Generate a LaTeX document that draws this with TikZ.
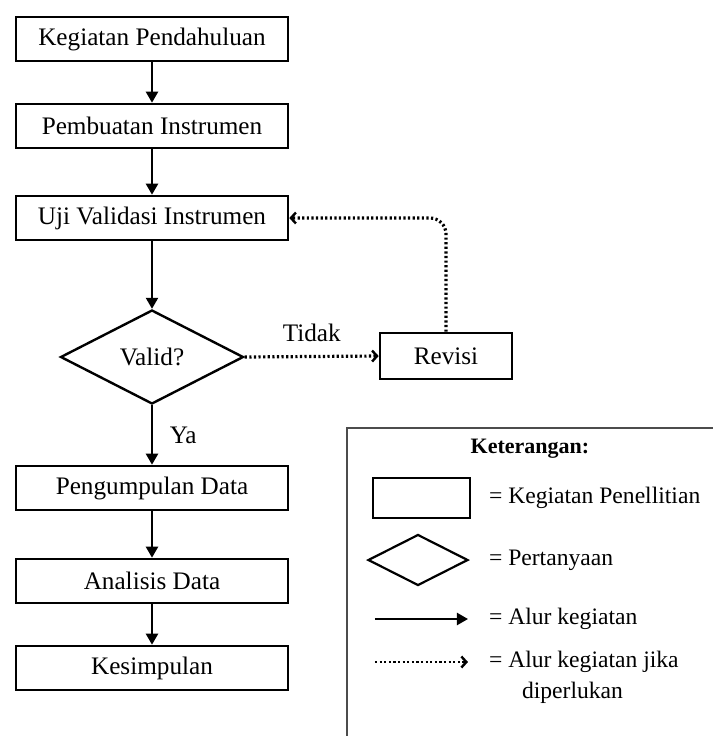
\documentclass[tikz,border=0pt]{standalone}
\usepackage{fontspec}
\setmainfont{Liberation Serif}
\usetikzlibrary{shapes.geometric,arrows.meta}

\tikzset{
  kotak/.style={draw, line width=1.3pt, minimum width=136pt, minimum height=22pt,
    inner sep=0pt, font=\fontsize{12.6}{15}\selectfont},
  belah/.style={draw, diamond, line width=1.2pt, minimum width=91.5pt, minimum height=47pt,
    inner sep=0pt, font=\fontsize{12.6}{15}\selectfont},
  ket/.style={anchor=west, font=\fontsize{11.8}{14}\selectfont},
  alur/.style={line width=1.1pt, -{Triangle[length=5.5pt,width=6pt]}},
  alurtitik/.style={line width=1.6pt, dash pattern=on 1.1pt off 1.2pt,
    -{Straight Barb[length=2.5pt,width=5.5pt,line width=1.2pt]}}
}

\begin{document}
\begin{tikzpicture}[x=0.5pt,y=-0.5pt]
    \useasboundingbox (0,0) rectangle (713,736);
    \clip (0,0) rectangle (713,736);
    % alur utama
    \node[kotak] (pendahuluan) at (152,39) {Kegiatan Pendahuluan};
    \node[kotak] (instrumen) at (152,126) {Pembuatan Instrumen};
    \node[kotak] (uji) at (152,218) {Uji Validasi Instrumen};
    \node[belah] (valid) at (152,357) {Valid?};
    \node[kotak, minimum width=66pt, minimum height=23pt] (revisi) at (446,356) {Revisi};
    \node[kotak] (data) at (152,488) {Pengumpulan Data};
    \node[kotak] (analisis) at (152,581) {Analisis Data};
    \node[kotak] (simpul) at (152,668) {Kesimpulan};

    \draw[alur] (pendahuluan) -- (instrumen);
    \draw[alur] (instrumen) -- (uji);
    \draw[alur] (uji) -- (valid);
    \draw[alur] (valid) -- node[midway, right=5pt, font=\fontsize{12.6}{15}\selectfont] {Ya} (data);
    \draw[alur] (data) -- (analisis);
    \draw[alur] (analisis) -- (simpul);
    \draw[alurtitik] (valid.east) -- node[midway, above=3pt, font=\fontsize{12.6}{15}\selectfont] {Tidak} (revisi.west);
    \draw[alurtitik, rounded corners=8pt] (revisi.north) |- (uji.east);

    % keterangan
    \draw[gray!60!black, line width=0.9pt] (720,428) -- (347,428) -- (347,745);
    \node[font=\bfseries\fontsize{11}{13}\selectfont] (judul) at (530,449) {Keterangan:};
    \node[draw, line width=1.2pt, minimum width=48.5pt, minimum height=20pt] (lkotak) at (421.5,498) {};
    \node[ket] (k1) at (482,498) {= Kegiatan Penellitian};
    \node[draw, diamond, line width=1.1pt, minimum width=50pt, minimum height=25.5pt, inner sep=0pt] (lbelah) at (418,560) {};
    \node[ket] (k2) at (482,560) {= Pertanyaan};
    \coordinate (a1) at (375,619);
    \coordinate (b1) at (468,619);
    \draw[alur] (a1) -- (b1);
    \node[ket] (k3) at (482,619) {= Alur kegiatan};
    \coordinate (a2) at (375,662);
    \coordinate (b2) at (468,662);
    \draw[alurtitik, line width=1.2pt] (a2) -- (b2);
    \node[ket] (k4) at (482,662) {= Alur kegiatan jika};
    \node[ket] (k5) at (515,693) {diperlukan};
\end{tikzpicture}
\end{document}
